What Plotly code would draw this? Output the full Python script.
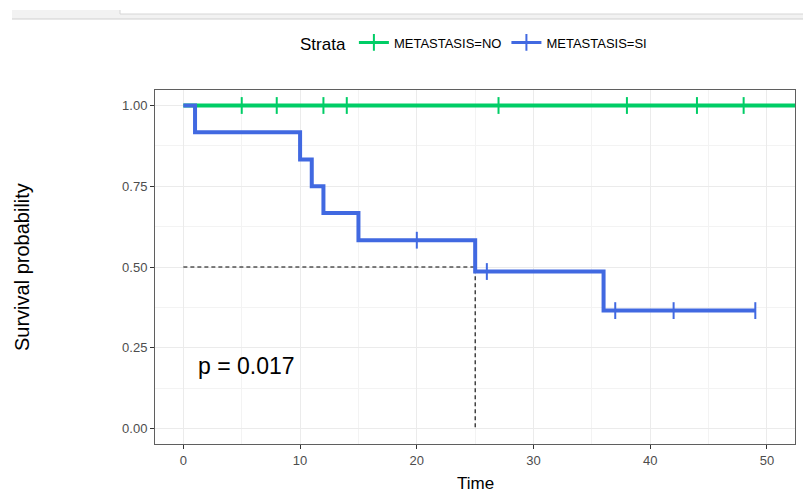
import plotly.graph_objects as go

# ---- data ----
no_label = "METASTASIS=NO"
si_label = "METASTASIS=SI"

no_time = [0, 55]
no_surv = [1.0, 1.0]
no_cens_time = [5, 8, 12, 14, 27, 38, 44, 48]
no_cens_surv = [1.0, 1.0, 1.0, 1.0, 1.0, 1.0, 1.0, 1.0]

si_time = [0, 1, 10, 11, 12, 15, 25, 36, 49]
si_surv = [1.0, 0.917, 0.833, 0.750, 0.667, 0.583, 0.486, 0.365, 0.365]
si_cens_time = [20, 26, 37, 42, 49]
si_cens_surv = [0.583, 0.486, 0.365, 0.365, 0.365]

median_time = 25
median_surv = 0.5
p_text = "p = 0.017"

x_ticks = [0, 10, 20, 30, 40, 50]
y_ticks = [0.0, 0.25, 0.5, 0.75, 1.0]

GREEN = "#00CD66"
BLUE = "#4169E1"
FONT = "Liberation Sans, Arial, sans-serif"

fig = go.Figure()

# median guide lines
fig.add_trace(go.Scatter(x=[0, median_time, median_time], y=[median_surv, median_surv, 0],
                         mode="lines", line=dict(color="black", width=1.1, dash="4px,3px"),
                         showlegend=False, hoverinfo="skip"))

for t, s, ct, cs, col, name in [
    (no_time, no_surv, no_cens_time, no_cens_surv, GREEN, no_label),
    (si_time, si_surv, si_cens_time, si_cens_surv, BLUE, si_label),
]:
    fig.add_trace(go.Scatter(x=t, y=s, mode="lines", line=dict(color=col, width=4, shape="hv"),
                             showlegend=False, name=name))
    fig.add_trace(go.Scatter(x=ct, y=cs, mode="markers",
                             marker=dict(symbol="line-ns", size=12, line=dict(color=col, width=2)),
                             showlegend=False, name=name))
    fig.add_trace(go.Scatter(x=[None], y=[None], mode="lines+markers", name=name,
                             line=dict(color=col, width=3),
                             marker=dict(symbol="line-ns", size=12, line=dict(color=col, width=2))))

# page body has an 8px margin: the figure starts at (8, 8) in the window
OFF = 8
W, H = 811 - OFF, 494 - OFF
L, T = 155 - OFF, 90 - OFF
R = W - (795 - OFF)
B = H - (444 - OFF)
pw, ph = W - L - R, H - T - B


def px(x):
    return (x - OFF - L) / pw


def py(y):
    return (H - B - (y - OFF)) / ph


shapes = [
    dict(type="rect", xref="paper", yref="paper", x0=px(12), x1=px(811), y0=py(19), y1=py(14),
         fillcolor="#f2f2f2", line=dict(width=0), layer="above"),
    dict(type="rect", xref="paper", yref="paper", x0=px(12), x1=px(120), y0=py(14), y1=py(10),
         fillcolor="#f2f2f2", line=dict(width=0), layer="above"),
    dict(type="line", xref="paper", yref="paper", x0=px(12), x1=px(811), y0=py(19), y1=py(19),
         line=dict(color="#d0d0d0", width=1)),
    dict(type="line", xref="paper", yref="paper", x0=px(120), x1=px(808), y0=py(14), y1=py(14),
         line=dict(color="#d6d6d6", width=1)),
    dict(type="line", xref="paper", yref="paper", x0=px(120), x1=px(120), y0=py(14), y1=py(10),
         line=dict(color="#d6d6d6", width=1)),
    dict(type="line", xref="paper", yref="paper", x0=px(808), x1=px(808), y0=py(14), y1=py(10),
         line=dict(color="#d6d6d6", width=1)),
]

fig.update_layout(
    width=W, height=H,
    margin=dict(l=L, r=R, t=T, b=B, pad=0),
    paper_bgcolor="white", plot_bgcolor="white",
    font=dict(family=FONT, color="black"),
    shapes=shapes,
    legend=dict(orientation="h", x=0.5, xanchor="center", y=py(44), yanchor="middle",
                title=dict(text="Strata", font=dict(size=17, family=FONT)),
                font=dict(size=13, family=FONT), itemwidth=30),
    annotations=[
        dict(text=p_text, x=1.1, y=0.193, xref="x", yref="y", xanchor="left", yanchor="middle",
             showarrow=False, font=dict(size=23, family=FONT, color="black")),
        dict(text="Time", x=0.5, y=py(483), xref="paper", yref="paper", xanchor="center",
             yanchor="middle", showarrow=False, font=dict(size=17, family=FONT, color="black")),
        dict(text="Survival probability", x=px(22), y=py(267), xref="paper", yref="paper",
             xanchor="center", yanchor="middle", textangle=-90, showarrow=False,
             font=dict(size=20, family=FONT, color="black")),
    ],
)

fig.update_xaxes(range=[-2.43, 52.4], tickvals=x_ticks, showgrid=True, gridcolor="#ebebeb", gridwidth=1.2,
                 minor=dict(dtick=5, tick0=0, showgrid=True, gridcolor="#f3f3f3", gridwidth=0.7),
                 zeroline=False, showline=True, mirror=True, linecolor="#5f5f5f", linewidth=1,
                 ticks="outside", ticklen=4, tickcolor="#333333",
                 tickfont=dict(size=13, color="#4d4d4d", family=FONT))
fig.update_yaxes(range=[-0.048, 1.048], tickvals=y_ticks, tickformat=".2f", showgrid=True,
                 gridcolor="#ebebeb", gridwidth=1.2,
                 minor=dict(dtick=0.125, tick0=0, showgrid=True, gridcolor="#f3f3f3", gridwidth=0.7),
                 zeroline=False, showline=True, mirror=True, linecolor="#5f5f5f", linewidth=1,
                 ticks="outside", ticklen=4, tickcolor="#333333",
                 tickfont=dict(size=13, color="#4d4d4d", family=FONT))

fig.write_html("out.html")
